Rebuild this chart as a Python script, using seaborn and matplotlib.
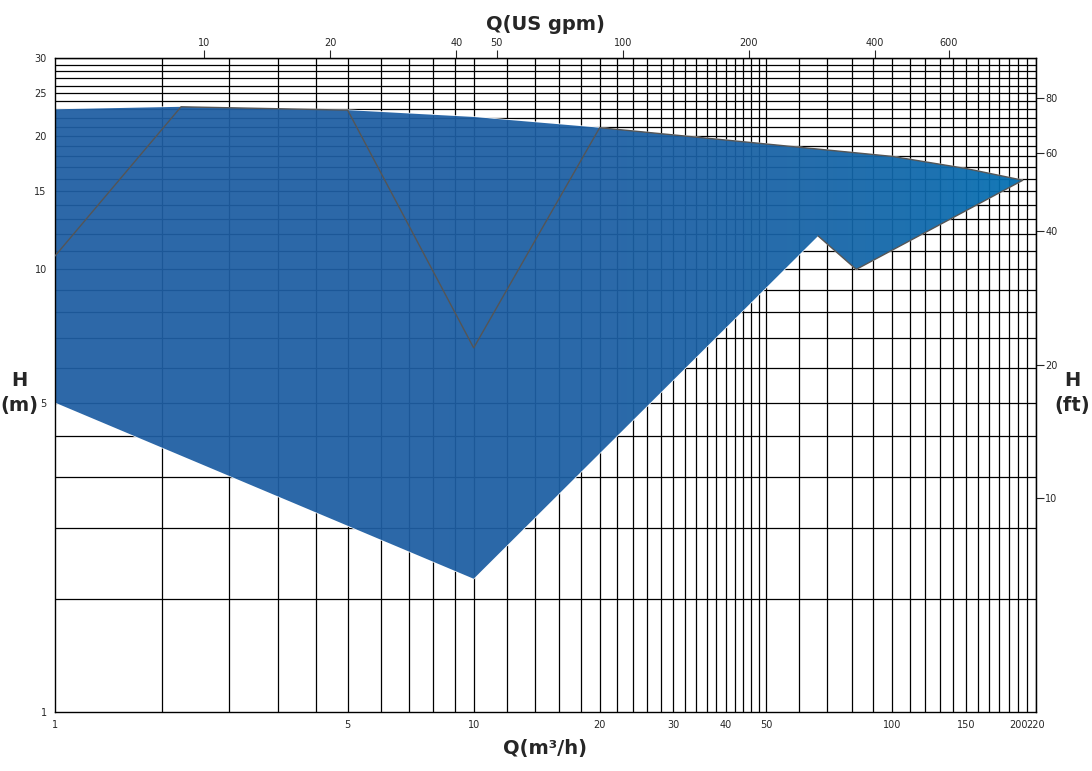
import numpy as np
import pandas as pd
import matplotlib
matplotlib.use("Agg")
import matplotlib.pyplot as plt
import seaborn as sns
from matplotlib.colors import LinearSegmentedColormap
from matplotlib.patches import Polygon

sns.set_style("white")
plt.rcParams['font.family'] = ['DejaVu Sans']

# envelope of the pump range (Q m3/h, H m), clockwise
env_q = [1, 2, 5, 10, 20, 50, 100, 150, 205, 82, 66.5, 10, 1]
env_h = [23.0, 23.3, 22.9, 22.1, 20.9, 19.2, 18.0, 16.9, 15.9, 10.0, 11.9, 2.0, 5.0]

grid_q = [1.8, 2.6, 3.4, 4.2, 5, 6, 7, 8, 9, 10, 12, 14, 16, 18, 20, 22, 24, 26, 28, 30,
          32, 34, 36, 38, 40, 42, 44, 46, 48, 50, 60, 70, 80, 90, 100, 110, 120, 130, 140,
          150, 160, 170, 180, 190, 200, 210, 220]
grid_h = [1.8, 2.6, 3.4, 4.2, 5] + list(range(6, 31))

xticks = [1, 5, 10, 20, 30, 40, 50, 100, 150, 200, 220]
yticks = [1, 5, 10, 15, 20, 25, 30]
gpm_ticks = [10, 20, 40, 50, 100, 200, 400, 600]
ft_ticks = [10, 20, 40, 60, 80]

fig = plt.figure(figsize=(10.92, 7.71), dpi=100)
ax = fig.add_axes([0.0504, 0.0765, 0.898, 0.848])
ax.set_xscale('log')
ax.set_yscale('log')
ax.set_xlim(1, 220)
ax.set_ylim(1, 30)

for q in grid_q:
    ax.axvline(q, color='black', lw=0.9, zorder=1)
for h in grid_h:
    ax.axhline(h, color='black', lw=0.9, zorder=1)

cmap = LinearSegmentedColormap.from_list('b', ['#1f5ea2', '#0072b4'])
grad = np.linspace(0, 1, 256).reshape(1, -1)
im = ax.imshow(grad, cmap=cmap, extent=[1, 220, 1, 30], aspect='auto', zorder=2, alpha=0.94)
poly = Polygon(list(zip(env_q, env_h)), closed=True, transform=ax.transData, facecolor='none')
ax.add_patch(poly)
im.set_clip_path(poly)

df = pd.DataFrame({'q': env_q, 'h': env_h})
sns.lineplot(data=df, x='q', y='h', sort=False, color='#555555', lw=1.0, ax=ax, zorder=3)
ax.set_xlim(1, 220)
ax.set_ylim(1, 30)

ax.minorticks_off()
ax.set_xticks(xticks)
ax.set_xticklabels([str(t) for t in xticks], fontsize=7)
ax.set_yticks(yticks)
ax.set_yticklabels([str(t) for t in yticks], fontsize=7)
ax.tick_params(axis='both', length=5, width=0.8, pad=1, direction='out', color='black')
ax.set_xlabel('Q(m³/h)', fontsize=14, fontweight='bold', labelpad=6)
ax.set_ylabel('')
for s in ax.spines.values():
    s.set_color('black')
    s.set_linewidth(1)
ax.spines['right'].set_visible(True)

top = ax.secondary_xaxis('top', functions=(lambda q: q * 4.403, lambda g: g / 4.403))
top.set_xticks(gpm_ticks)
top.set_xticklabels([str(t) for t in gpm_ticks], fontsize=7)
top.minorticks_off()
top.tick_params(length=6, pad=1)
top.set_xlabel('Q(US gpm)', fontsize=14, fontweight='bold', labelpad=6)

right = ax.secondary_yaxis('right', functions=(lambda h: h * 3.281, lambda f: f / 3.281))
right.set_yticks(ft_ticks)
right.set_yticklabels([str(t) for t in ft_ticks], fontsize=7)
right.minorticks_off()
right.tick_params(length=6, pad=1)

fig.text(0.018, 0.49, 'H\n(m)', fontsize=14, fontweight='bold', ha='center', va='center', linespacing=1.4)
fig.text(0.982, 0.49, 'H\n(ft)', fontsize=14, fontweight='bold', ha='center', va='center', linespacing=1.4)

fig.savefig('out.png', dpi=100)
